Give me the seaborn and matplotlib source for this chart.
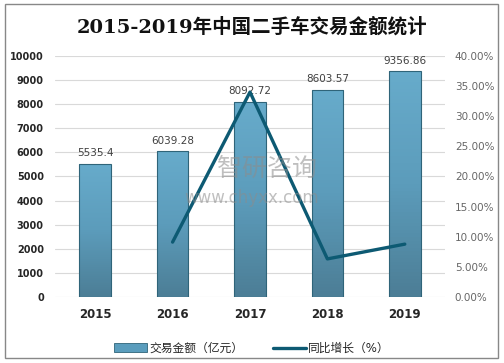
import numpy as np
import pandas as pd
import matplotlib
matplotlib.use("Agg")
import matplotlib.pyplot as plt
import seaborn as sns
from matplotlib.patches import Rectangle
from matplotlib.lines import Line2D
from matplotlib.colors import LinearSegmentedColormap
from matplotlib.ticker import FuncFormatter

# chart data
years = ["2015", "2016", "2017", "2018", "2019"]
amount = [5535.4, 6039.28, 8092.72, 8603.57, 9356.86]      # 交易金额（亿元）
growth_years = ["2016", "2017", "2018", "2019"]
growth = [9.10, 34.00, 6.31, 8.76]                          # 同比增长（%）

sns.set_style("white")
plt.rcParams['font.family'] = ['DejaVu Sans', 'Noto Sans CJK SC']

bar_color = "#5a9dbd"
line_color = "#0d5a73"

fig = plt.figure(figsize=(5.04, 3.63), dpi=100)
ax = fig.add_axes([0.109, 0.182, 0.774, 0.664])

df = pd.DataFrame({"year": years, "amount": amount})
sns.barplot(data=df, x="year", y="amount", color=bar_color, width=0.41,
            edgecolor="#2f6479", linewidth=0.8, saturation=1, ax=ax)
ax.bar_label(ax.containers[0], labels=[f"{v:g}" for v in amount], padding=4,
             fontsize=7.5, color="#404040")

# vertical gradient fill inside each bar
grad = LinearSegmentedColormap.from_list("g", ["#4c7e96", "#5c9cbb", "#67abcb"])
for p in ax.containers[0]:
    x0, y0 = p.get_x(), p.get_y()
    w, h = p.get_width(), p.get_height()
    im = ax.imshow(np.linspace(0, 1, 64).reshape(-1, 1), cmap=grad, origin="lower",
                   extent=[x0, x0 + w, y0, y0 + h], aspect="auto", zorder=p.get_zorder())
    im.set_clip_path(p)
    p.set_facecolor("none")
    p.set_zorder(p.get_zorder() + 0.1)

ax.set_xlim(-0.52, 4.52)
ax.set_ylim(0, 10000)
ax.set_yticks(range(0, 10001, 1000))
ax.yaxis.grid(True, color="#d9d9d9", linewidth=0.8)
ax.set_axisbelow(True)
for s in ax.spines.values():
    s.set_visible(False)
ax.set_xlabel("")
ax.set_ylabel("")
ax.tick_params(axis="y", length=0, pad=8, labelsize=7, labelcolor="#262626")
for t in ax.get_yticklabels():
    t.set_fontweight("bold")
ax.tick_params(axis="x", length=0, pad=8, labelsize=8.5, labelcolor="#262626")
for t in ax.get_xticklabels():
    t.set_fontweight("bold")

ax2 = ax.twinx()
gx = [years.index(y) for y in growth_years]
sns.lineplot(x=gx, y=growth, color=line_color, linewidth=2.4, ax=ax2)
ax2.set_ylim(0, 40)
ax2.set_yticks(range(0, 41, 5))
ax2.yaxis.set_major_formatter(FuncFormatter(lambda v, p: f"{v:.2f}%"))
ax2.tick_params(axis="y", length=0, pad=7, labelsize=7.5, labelcolor="#666666")
for s in ax2.spines.values():
    s.set_visible(False)
ax2.set_ylabel("")

# watermark
fig.text(0.53, 0.535, "智研咨询", ha="center", va="center", fontsize=18,
         color="#8c8c8c", alpha=0.55, family=['Noto Sans CJK SC'])
fig.text(0.5, 0.455, "www.chyxx.com", ha="center", va="center", fontsize=12,
         color="#8c8c8c", alpha=0.55)

fig.text(0.5, 0.925, "2015-2019年中国二手车交易金额统计", ha="center", va="center",
         fontsize=14, fontweight="bold", color="#111111",
         family=['DejaVu Serif', 'Noto Sans CJK SC'])

handles = [Rectangle((0, 0), 1, 1, facecolor=bar_color, edgecolor="#2f6479", linewidth=0.6),
           Line2D([0], [0], color=line_color, linewidth=2.4)]
fig.legend(handles, ["交易金额（亿元）", "同比增长（%）"], loc="center",
           bbox_to_anchor=(0.5, 0.04), ncol=2, frameon=False, fontsize=8.5,
           handlelength=2.8, handleheight=0.8, columnspacing=2.5, handletextpad=0.2)

fig.patches.append(Rectangle((0.01, 0.015), 0.978, 0.975, transform=fig.transFigure,
                             fill=False, edgecolor="#888888", linewidth=1))

fig.savefig("out.png", dpi=100)
